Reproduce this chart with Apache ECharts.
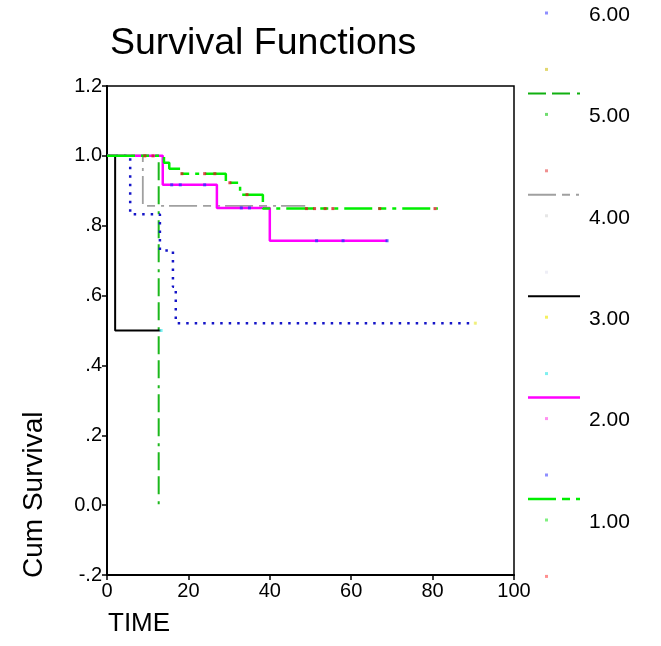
<!DOCTYPE html>
<html>
<head>
<meta charset="utf-8">
<script src="https://cdn.jsdelivr.net/npm/echarts@6/dist/echarts.min.js"></script>
<style>
html,body{margin:0;padding:0;background:#fff;}
#chart{width:661px;height:646px;}
</style>
</head>
<body>
<div id="chart"></div>
<script>
// ---- data ----
var xTicks = [0, 20, 40, 60, 80, 100];
var yTickLabels = ['-.2', '0.0', '.2', '.4', '.6', '.8', '1.0', '1.2'];
var groupNames = ['1.00', '2.00', '3.00', '4.00', '5.00', '6.00'];

// Kaplan-Meier steps (time, cumulative survival after the step)
var g1Time = [0, 14.0, 15.3, 18.2, 29.2, 32.7, 38.3, 81.3];
var g1Surv = [1, 0.980, 0.963, 0.949, 0.923, 0.889, 0.849, 0.849];
var g2Time = [0, 13.7, 27.0, 40.0, 68.8];
var g2Surv = [1, 0.917, 0.851, 0.757, 0.757];
var g3Time = [0, 2.0, 13.3];
var g3Surv = [1, 0.500, 0.500];
var g4Time = [0, 8.8, 48.7];
var g4Surv = [1, 0.857, 0.857];
var g5Time = [0, 12.7];
var g5Surv = [1, 0.000];
var g6Time = [0, 5.7, 13.0, 16.2, 16.9, 90.5];
var g6Surv = [1, 0.833, 0.729, 0.625, 0.521, 0.521];

// censored observations
var c1Time = [9.3, 11.3, 18.4, 24.0, 26.5, 30.2, 34.4, 49.0, 51.0, 53.6, 55.5, 67.0, 80.6];
var c1Surv = [1, 1, 0.949, 0.949, 0.949, 0.923, 0.889, 0.849, 0.849, 0.849, 0.849, 0.849, 0.849];
var c2Time = [15.9, 18.0, 24.0, 33.0, 35.0, 51.5, 58.0, 68.8];
var c2Surv = [0.917, 0.917, 0.917, 0.851, 0.851, 0.757, 0.757, 0.757];
var c3Time = [13.3];
var c3Surv = [0.5];
var c6Time = [90.5];
var c6Surv = [0.521];

function pairs(t, s) { return t.map(function (v, i) { return [v, s[i]]; }); }

var chart = echarts.init(document.getElementById('chart'), null, {renderer: 'canvas'});

var FONT = 'Liberation Sans, Arial, sans-serif';

function stepSeries(name, t, s, color, width, type, z) {
  return {
    name: name, type: 'line', step: 'end', data: pairs(t, s),
    showSymbol: false, symbol: 'none', animation: false, z: z,
    lineStyle: {color: color, width: width, type: type, cap: 'butt'}
  };
}
function censorSeries(name, t, s, color, z) {
  return {
    name: name, type: 'scatter', data: pairs(t, s), symbol: 'rect',
    symbolSize: 3, itemStyle: {color: color}, animation: false, z: z
  };
}

// legend graphics
var legendBlocks = [
  {label: '6.00', upper: null, line: null, row: '#8f8fff'},
  {label: '5.00', upper: '#e2d870', line: {c: '#10b010', w: 2, d: [18, 6, 18, 7, 3, 5]}, row: '#70dd70'},
  {label: '4.00', upper: '#f09090', line: {c: '#a0a0a0', w: 2, d: [28, 6, 8, 6, 3, 5]}, row: '#e6e6e6'},
  {label: '3.00', upper: '#eeeef6', line: {c: '#000000', w: 2, d: null}, row: '#f5f060'},
  {label: '2.00', upper: '#80f0f0', line: {c: '#ff00ff', w: 2.5, d: null}, row: '#ff90f0'},
  {label: '1.00', upper: '#8f8fff', line: {c: '#00ee00', w: 2.5, d: [28, 6, 8, 6, 4, 6]}, row: '#80f080'},
  {label: null, upper: '#ff9090', line: null, row: null}
];
var graphics = [];
legendBlocks.forEach(function (b, k) {
  var y = 15 + k * 101.4;
  if (b.upper) graphics.push({type: 'rect', shape: {x: 545, y: y - 47 - 1.5, width: 3, height: 3}, style: {fill: b.upper}});
  if (b.row) graphics.push({type: 'rect', shape: {x: 545, y: y - 2 - 1.5, width: 3, height: 3}, style: {fill: b.row}});
  if (b.line) graphics.push({type: 'line', shape: {x1: 528, y1: y - 23, x2: 580, y2: y - 23},
    style: {stroke: b.line.c, lineWidth: b.line.w, lineDash: b.line.d}});
  if (b.label) graphics.push({type: 'text', x: 589, y: y, style: {text: b.label, font: '21px ' + FONT, fill: '#000', textVerticalAlign: 'middle'}});
});
// axis titles
graphics.push({type: 'text', x: 108, y: 624, style: {text: 'TIME', font: '26px ' + FONT, fill: '#000', textVerticalAlign: 'middle'}});
graphics.push({type: 'text', x: 34, y: 578, rotation: Math.PI / 2, style: {text: 'Cum Survival', font: '28px ' + FONT, fill: '#000', textVerticalAlign: 'middle', textAlign: 'left'}});

var option = {
  backgroundColor: '#fff',
  animation: false,
  title: {
    text: 'Survival Functions', left: 105, top: 20,
    textStyle: {fontFamily: FONT, fontSize: 37.5, fontWeight: 'normal', color: '#000'}
  },
  grid: {left: 107, right: 147, top: 86, bottom: 71, show: true, borderColor: '#000', borderWidth: 1.5, backgroundColor: 'transparent'},
  xAxis: {
    type: 'value', min: 0, max: 100, interval: 20,
    axisLine: {show: true, onZero: false, lineStyle: {color: '#000', width: 2}},
    axisTick: {show: true, length: 5, lineStyle: {color: '#000', width: 1.5}},
    splitLine: {show: false},
    axisLabel: {color: '#000', fontFamily: FONT, fontSize: 20, margin: 6,
      formatter: function (v) { return xTicks.indexOf(v) >= 0 ? String(v) : ''; }}
  },
  yAxis: {
    type: 'value', min: -0.2, max: 1.2, interval: 0.2,
    axisLine: {show: true, onZero: false, lineStyle: {color: '#000', width: 2}},
    axisTick: {show: true, length: 5, lineStyle: {color: '#000', width: 1.5}},
    splitLine: {show: false},
    axisLabel: {color: '#000', fontFamily: FONT, fontSize: 20, margin: 5,
      formatter: function (v) { return yTickLabels[Math.round((v + 0.2) / 0.2)]; }}
  },
  graphic: graphics,
  series: [
    stepSeries(groupNames[4], g5Time, g5Surv, '#1cb81c', 2, [18, 6, 18, 7, 3, 6], 2),
    stepSeries(groupNames[2], g3Time, g3Surv, '#000000', 2, 'solid', 3),
    stepSeries(groupNames[3], g4Time, g4Surv, '#a0a0a0', 1.8, [28, 6, 8, 6, 3, 5], 4),
    stepSeries(groupNames[5], g6Time, g6Surv, '#1515c8', 2.5, [2.5, 6], 5),
    stepSeries(groupNames[1], g2Time, g2Surv, '#ff00ff', 2.5, 'solid', 6),
    stepSeries(groupNames[0], g1Time, g1Surv, '#00ee00', 2.5, [28, 6, 8, 6, 4, 6], 7),
    censorSeries('c2', c2Time, c2Surv, '#3030ff', 8),
    censorSeries('c1', c1Time, c1Surv, '#d02020', 8),
    censorSeries('c3', c3Time, c3Surv, '#60f0f0', 8),
    censorSeries('c6', c6Time, c6Surv, '#f0f060', 8)
  ]
};
chart.setOption(option);
</script>
</body>
</html>
